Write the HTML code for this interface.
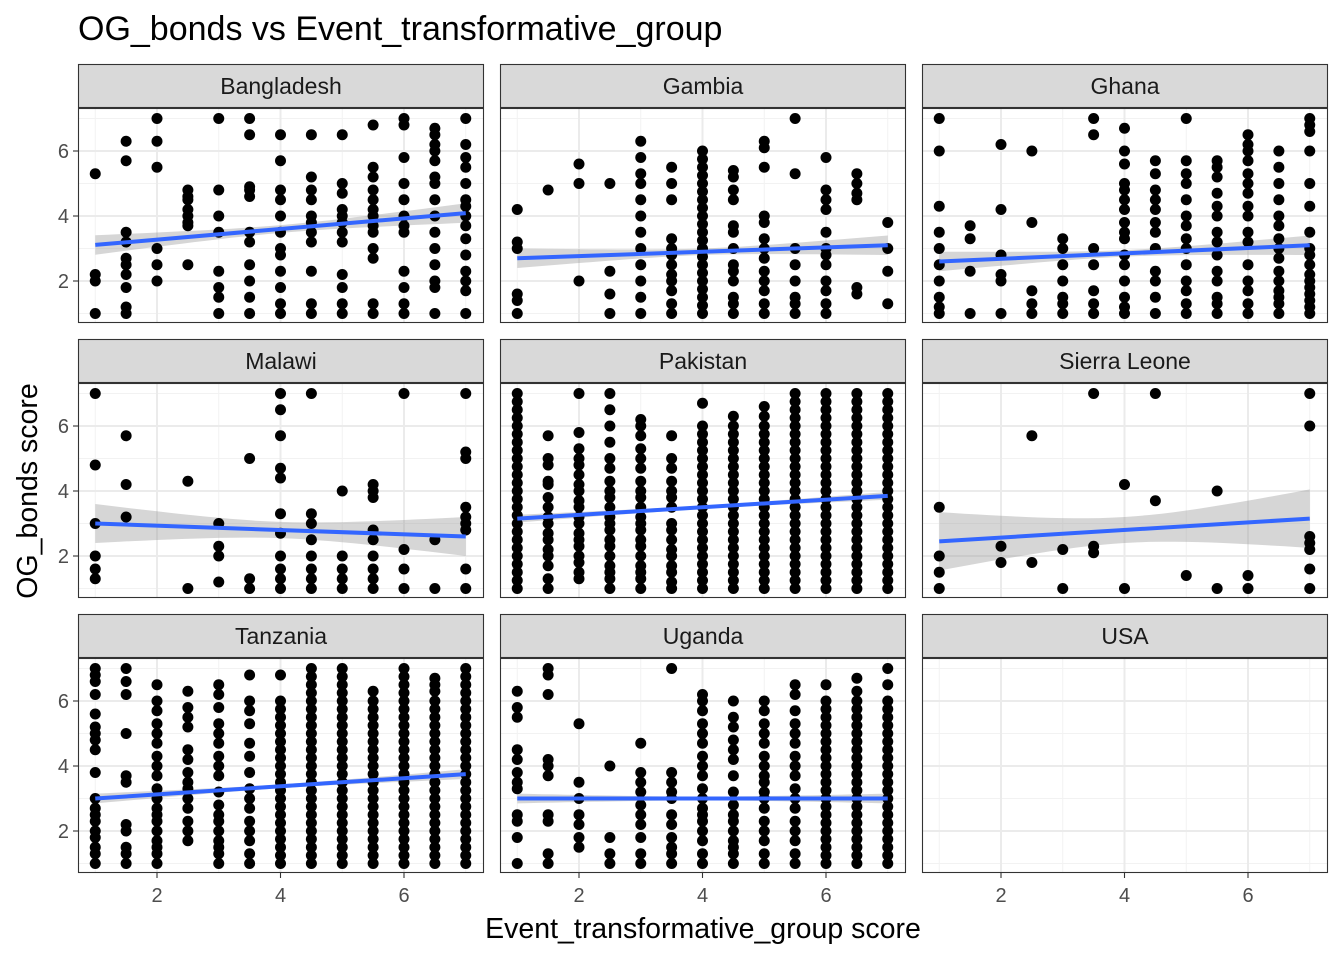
<!DOCTYPE html>
<html><head><meta charset="utf-8"><style>
body{margin:0;background:#fff;}
svg{display:block;font-family:"Liberation Sans",sans-serif;}
</style></head><body>
<svg id="chart" width="1344" height="960" viewBox="0 0 1344 960" xmlns="http://www.w3.org/2000/svg">
<text x="78" y="40" font-size="34" fill="#000">OG_bonds vs Event_transformative_group</text>
<text x="703" y="938" font-size="28.5" text-anchor="middle" fill="#000">Event_transformative_group score</text>
<text transform="translate(37,491) rotate(-90)" font-size="28.5" text-anchor="middle" fill="#000">OG_bonds score</text>
</svg>
<script>
const countries = ["Bangladesh","Gambia","Ghana","Malawi","Pakistan","Sierra Leone","Tanzania","Uganda","USA"];
const xTicks = [2,4,6];
const yTicks = [2,4,6];
const D7 = [7,6.75,6.5,6.25,6,5.75,5.5,5.25,5,4.75,4.5,4.25,4,3.75,3.5,3.25,3,2.75,2.5,2.25,2,1.75,1.5,1.25,1];
const D6 = [6,5.75,5.5,5.25,5,4.75,4.5,4.25,4,3.75,3.5,3.25,3,2.75,2.5,2.25,2,1.75,1.5,1.25,1];
const bangladesh = [
 [1,[5.3,2.2,2,1]],[1.5,[6.3,5.7,3.5,3.2,2.7,2.5,2.2,1.8,1.2,1]],[2,[7,6.3,5.5,3,2.5,2]],
 [2.5,[4.8,4.6,4.5,4.2,4,3.8,3.7,2.5]],[3,[7,4.8,4,3.5,2.3,1.8,1.5,1]],[3.5,[7,6.5,4.9,4.8,4.6,3.5,3.2,2.5,2,1.5,1]],
 [4,[6.5,5.7,4.8,4.5,4,3.5,3,2.8,2.3,1.8,1.3,1]],[4.5,[6.5,5.2,4.8,4.5,4,3.8,3.5,3.2,2.3,1.3,1]],
 [5,[6.5,5,4.7,4.2,4,3.8,3.5,3.2,2.2,1.8,1.3,1]],[5.5,[6.8,5.5,5.2,4.8,4.5,4.2,4,3.7,3.5,3,2.7,1.3,1]],
 [6,[7,6.8,5.8,5,4.5,4,3.7,3.5,2.3,1.8,1.3,1]],[6.5,[6.7,6.5,6.2,6,5.7,5.2,5,4.5,4,3.5,3,2.5,2,1.8,1]],
 [7,[7,6.2,5.8,5.5,5,4.5,4.3,4,3.7,3.3,2.8,2.3,2,1.7,1]]];
const gambia = [
 [1,[4.2,3.2,3,1.6,1.4,1]],[1.5,[4.8]],[2,[5.6,5,2]],[2.5,[5,2.3,1.6,1]],
 [3,[6.3,5.8,5.3,5,4.5,4,3.5,3,2.5,2,1.5,1]],[3.5,[5.5,5,4.5,3.3,3,2.8,2.5,2.2,2,1.7,1.3,1]],
 [4,D6],[4.5,[5.4,5.2,4.8,4.5,3.7,3.5,3,2.5,2.3,2,1.5,1.3,1]],
 [5,[6.3,6.1,5.5,4,3.8,3.3,3,2.7,2.3,2,1.7,1.3,1]],[5.5,[7,5.3,3,2.5,2,1.5,1.3,1]],
 [6,[5.8,4.8,4.5,4.2,3.5,3,2.8,2.5,2,1.7,1.3,1]],[6.5,[5.3,5,4.7,4.5,1.8,1.6]],[7,[3.8,3,2.3,1.3]]];
const ghana = [
 [1,[7,6,4.3,3.5,3,2.5,2,1.5,1.2,1]],[1.5,[3.7,3.3,2.3,1]],[2,[6.2,4.2,2.8,2.2,2,1]],[2.5,[6,3.8,1.7,1.3,1]],
 [3,[3.3,3,2.5,2,1.5,1.3,1]],[3.5,[7,6.5,3,2.5,1.7,1.3,1]],
 [4,[6.7,6,5.6,5,4.8,4.5,4.2,3.8,3.5,3.3,2.8,2.5,2,1.5,1.2,1]],[4.5,[5.7,5.3,4.8,4.5,4.2,3.8,3.5,3,2.3,2,1.5,1]],
 [5,[7,5.7,5.3,5,4.5,4,3.7,3.3,3,2.5,2,1.7,1.3,1]],[5.5,[5.7,5.5,5.2,4.7,4.3,4,3.5,3.2,2.8,2.3,2,1.5,1.3,1]],
 [6,[6.5,6.2,6,5.7,5.3,5,4.7,4.3,4,3.5,3.2,2.5,2,1.7,1.3,1]],[6.5,[6,5.5,5,4.5,4,3.7,3.3,3,2.7,2.3,2,1.7,1.5,1.3,1]],
 [7,[7,6.8,6.6,6,5,4.3,3.5,3,2.8,2.5,2.2,2,1.8,1.6,1.4,1.2,1]]];
const malawi = [
 [1,[7,4.8,3,2,1.6,1.3]],[1.5,[5.7,4.2,3.2]],[2.5,[4.3,1]],[3,[3,2.3,2,1.2]],[3.5,[5,1.3,1]],
 [4,[7,6.5,5.7,4.7,4.4,3.3,2.7,2,1.6,1.3,1]],[4.5,[7,3.3,3,2.5,2,1.6,1.3,1]],[5,[4,2,1.6,1.3,1]],
 [5.5,[4.2,4,3.8,2.8,2.5,2,1.6,1.3,1]],[6,[7,2.2,1.6,1]],[6.5,[2.5,1]],[7,[7,5.2,5,3.5,3.2,3,2.8,1.6,1]]];
const pakistan = [
 [1,D7],[1.5,[5.7,5,4.8,4.3,4.2,3.8,3.5,3.2,3,2.7,2.5,2.2,2,1.7,1.3,1]],
 [2,[7,5.8,5.3,5,4.8,4.5,4.2,4,3.7,3.5,3.2,3,2.7,2.5,2.3,2,1.8,1.5,1.3]],
 [2.5,[7,6.5,6,5.5,5,4.7,4.3,4,3.8,3.5,3.2,3,2.8,2.5,2.3,2,1.7,1.5,1.3,1]],
 [3,[6.2,6,5.7,5.3,5,4.7,4.3,4,3.8,3.5,3.2,3,2.8,2.5,2.3,2,1.7,1.5,1.3,1]],
 [3.5,[5.7,5,4.7,4.3,4,3.8,3.5,3,2.8,2.5,2.2,2,1.7,1.5,1.2,1]],
 [4,[6.7].concat(D6)],[4.5,[6.3].concat(D6)],[5,[6.6,6.3].concat(D6)],[5.5,D7],[6,D7],[6.5,D7],[7,D7]];
const sierraLeone = [
 [1,[3.5,2,1.5,1]],[2,[2.3,1.8]],[2.5,[5.7,1.8]],[3,[2.2,1]],[3.5,[7,2.3,2.1]],[4,[4.2,1]],
 [4.5,[7,3.7]],[5,[1.4]],[5.5,[4,1]],[6,[1.4,1]],[7,[7,6,2.6,2.4,2.2,1.6,1]]];
const tanzania = [
 [1,[7,6.8,6.6,6.2,5.6,5.2,5,4.8,4.5,3.8,3,2.7,2.5,2.3,2,1.8,1.5,1.3,1]],
 [1.5,[7,6.6,6.2,5,3.7,3.5,2.2,2,1.5,1.3,1]],
 [2,[6.5,6,5.7,5.3,5,4.7,4.3,4,3.7,3.3,3,2.7,2.5,2.3,2,1.7,1.5,1.3,1]],
 [2.5,[6.3,5.8,5.5,5.2,4.5,4.2,3.8,3.5,3.3,3,2.7,2.3,2,1.7]],
 [3,[6.5,6.2,5.8,5.3,5,4.7,4.3,4,3.7,3.2,2.8,2.5,2.3,2,1.7,1.5,1.3,1]],
 [3.5,[6.8,6,5.7,5.3,4.7,4.3,3.8,3.3,3,2.7,2.3,2,1.7,1.3,1]],
 [4,[6.8].concat(D6)],[4.5,D7],[5,D7],[5.5,[6.3].concat(D6)],[6,D7],[6.5,[6.7,6.5,6.3].concat(D6)],[7,D7]];
const uganda = [
 [1,[6.3,5.8,5.5,4.5,4.2,3.8,3.5,3.3,2.5,2.3,1.8,1]],[1.5,[7,6.8,6.2,4.2,4,3.7,2.5,2.3,1.3,1]],
 [2,[5.3,3.5,3,2.5,2.2,1.8,1.5]],[2.5,[4,1.8,1.3,1]],[3,[4.7,3.8,3.5,3.2,2.8,2.5,2.2,1.8,1.3,1]],
 [3.5,[7,3.8,3.5,3.2,3,2.5,2.2,1.8,1.5,1.3,1]],
 [4,[6.2,6,5.7,5.3,5,4.7,4.3,4,3.7,3.3,3,2.7,2.5,2.3,2,1.7,1.3,1]],
 [4.5,[6,5.5,5.2,4.8,4.5,4.2,3.7,3.2,2.8,2.5,2.3,2,1.7,1.5,1.3,1]],
 [5,[6,5.7,5.3,5,4.7,4.3,4,3.7,3.5,3.2,3,2.7,2.3,2,1.7,1.3,1]],
 [5.5,[6.5,6.2,5.7,5.3,5,4.7,4.3,4,3.7,3.3,3,2.7,2.3,2,1.7,1.3,1]],
 [6,[6.5].concat(D6)],[6.5,[6.7,6.3].concat(D6)],[7,[7,6.5].concat(D6)]];
const usa = [];
const fitStart = [3.11,2.7,2.6,3.0,3.15,2.45,3.0,3.0,null];
const fitEnd   = [4.09,3.1,3.1,2.6,3.85,3.15,3.75,3.0,null];
const seEnd    = [0.3,0.3,0.3,0.6,0.12,0.9,0.15,0.15,null];
const seMid    = [0.12,0.1,0.1,0.25,0.05,0.4,0.06,0.06,null];
const allData = [bangladesh,gambia,ghana,malawi,pakistan,sierraLeone,tanzania,uganda,usa];

const svg = document.getElementById('chart');
const NS = 'http://www.w3.org/2000/svg';
const colLeft = [78,500,922], rowTop = [108,383,658], PW = 406, PH = 215;
function mk(tag, attrs, parent){ const e = document.createElementNS(NS, tag); for (const k in attrs) e.setAttribute(k, attrs[k]); (parent||svg).appendChild(e); return e; }
function sx(c, x){ return colLeft[c] + 17.25 + (x-1)*61.75; }
function sy(r, y){ return rowTop[r] + 205.5 - (y-1)*32.5; }

countries.forEach((name, i) => {
  const c = i % 3, r = Math.floor(i/3);
  const L = colLeft[c], T = rowTop[r];
  const g = mk('g', {});
  
  
  const st = mk('rect', {x:L+0.5, y:T-43.5, width:PW-1, height:43, fill:'#d9d9d9', stroke:'#333', 'stroke-width':1.1}, g);
  
  
  const stt = mk('text', {x:L+PW/2, y:T-14, 'font-size':23, 'text-anchor':'middle', fill:'#1a1a1a'}, g);
  stt.textContent = name;
  
  
  mk('rect', {x:L, y:T, width:PW, height:PH, fill:'#fff'}, g);
  [1,3,5,7].forEach(v => { mk('line', {x1:sx(c,v), x2:sx(c,v), y1:T, y2:T+PH, stroke:'#f2f2f2', 'stroke-width':1}, g); mk('line', {x1:L, x2:L+PW, y1:sy(r,v), y2:sy(r,v), stroke:'#f2f2f2', 'stroke-width':1}, g); });
  xTicks.forEach(v => mk('line', {x1:sx(c,v), x2:sx(c,v), y1:T, y2:T+PH, stroke:'#ebebeb', 'stroke-width':2}, g));
  yTicks.forEach(v => mk('line', {x1:L, x2:L+PW, y1:sy(r,v), y2:sy(r,v), stroke:'#ebebeb', 'stroke-width':2}, g));
  if (fitStart[i] !== null) {
    const top = [], bot = [];
    for (let k = 0; k <= 30; k++) {
      const x = 1 + k*0.2, f = fitStart[i] + (fitEnd[i]-fitStart[i])*(x-1)/6;
      const t = (x-4)/3, se = Math.sqrt(seMid[i]*seMid[i] + (seEnd[i]*seEnd[i]-seMid[i]*seMid[i])*t*t);
      top.push(sx(c,x).toFixed(1)+','+sy(r,Math.min(f+se,7.3)).toFixed(1));
      bot.unshift(sx(c,x).toFixed(1)+','+sy(r,Math.max(f-se,0.7)).toFixed(1));
    }
    const band = mk('polygon', {points: top.concat(bot).join(' '), fill:'#999', 'fill-opacity':0.4}, g);
    
    
  }
  allData[i].forEach(col => col[1].forEach(y => {
    const p = mk('circle', {cx:sx(c,col[0]), cy:sy(r,y), r:5.5, fill:'#000'}, g);
    
    
  }));
  if (fitStart[i] !== null) {
    const ln = mk('line', {x1:sx(c,1), y1:sy(r,fitStart[i]), x2:sx(c,7), y2:sy(r,fitEnd[i]), stroke:'#3366ff', 'stroke-width':4}, g);
    
    
  }
  mk('rect', {x:L+0.5, y:T+0.5, width:PW-1, height:PH-1, fill:'none', stroke:'#333', 'stroke-width':1.1}, g);
  if (c === 0) yTicks.forEach(v => {
    mk('line', {x1:L-5, x2:L, y1:sy(r,v), y2:sy(r,v), stroke:'#333', 'stroke-width':1.1});
    const t = mk('text', {x:L-9, y:sy(r,v)+7, 'font-size':20, 'text-anchor':'end', fill:'#4d4d4d'});
    t.textContent = v;
    
    
  });
  if (r === 2) xTicks.forEach(v => {
    mk('line', {x1:sx(c,v), x2:sx(c,v), y1:T+PH, y2:T+PH+5, stroke:'#333', 'stroke-width':1.1});
    const t = mk('text', {x:sx(c,v), y:T+PH+29, 'font-size':20, 'text-anchor':'middle', fill:'#4d4d4d'});
    t.textContent = v;
    
    
  });
});
</script>
</body></html>
